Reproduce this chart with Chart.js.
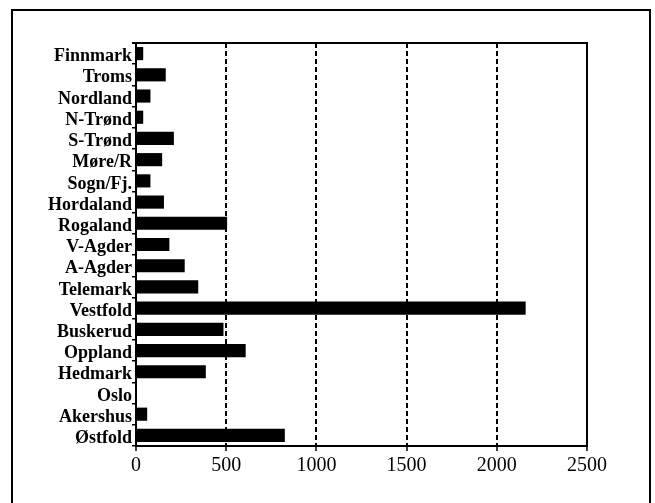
<!DOCTYPE html>
<html>
<head>
<meta charset="utf-8">
<script src="https://cdn.jsdelivr.net/npm/chart.js@4"></script>
<style>
  html, body { margin: 0; padding: 0; background: #fff; }
  #wrap { position: relative; width: 655px; height: 503px; }
  #frame { position: absolute; left: 11px; top: 9px; width: 636px; height: 500px;
           border: 2px solid #000; border-bottom: none; pointer-events: none; }
  canvas { position: absolute; left: 0; top: 0; }
</style>
</head>
<body>
<div id="wrap">
  <canvas id="chart" width="655" height="503"></canvas>
  <div id="frame"></div>
</div>
<script>
// county names, top to bottom
const counties = ['Finnmark', 'Troms', 'Nordland', 'N-Trønd', 'S-Trønd', 'Møre/R', 'Sogn/Fj.',
  'Hordaland', 'Rogaland', 'V-Agder', 'A-Agder', 'Telemark', 'Vestfold', 'Buskerud',
  'Oppland', 'Hedmark', 'Oslo', 'Akershus', 'Østfold'];
const values = [40, 165, 80, 40, 210, 145, 80, 155, 505, 185, 270, 345, 2160, 485, 608, 387, 0, 62, 825];
const xTicks = [0, 500, 1000, 1500, 2000, 2500];

// closes the plot box on top and right
const boxLines = {
  id: 'boxLines',
  afterDraw(chart) {
    const { ctx, chartArea: a } = chart;
    ctx.save();
    ctx.strokeStyle = '#000';
    ctx.lineWidth = 2;
    ctx.beginPath();
    ctx.moveTo(a.left - 4, a.top);
    ctx.lineTo(a.right, a.top);
    ctx.lineTo(a.right, a.bottom);
    ctx.stroke();
    ctx.restore();
  }
};

new Chart(document.getElementById('chart'), {
  type: 'bar',
  data: {
    labels: counties,
    datasets: [{
      data: values,
      backgroundColor: '#000',
      borderWidth: 0,
      barPercentage: 0.62,
      categoryPercentage: 1
    }]
  },
  plugins: [boxLines],
  options: {
    indexAxis: 'y',
    responsive: false,
    animation: false,
    events: [],
    layout: { padding: { left: 0, right: 68, top: 43, bottom: 27 } },
    plugins: { legend: { display: false }, tooltip: { enabled: false } },
    scales: {
      x: {
        min: 0,
        max: 2500,
        afterBuildTicks: s => { s.ticks = xTicks.map(v => ({ value: v })); },
        afterFit: s => { s.height = 30; },
        border: { display: true, color: '#000', width: 2, dash: [5, 3] },
        grid: {
          color: c => (c.tick && (c.tick.value === 0 || c.tick.value === 2500)) ? 'rgba(0,0,0,0)' : '#000',
          lineWidth: 2,
          tickColor: '#000',
          tickLength: 5,
          tickWidth: 1.5,
          tickBorderDash: []
        },
        ticks: {
          color: '#000',
          padding: 3,
          maxRotation: 0,
          callback: v => String(v),
          font: { family: 'Liberation Serif', size: 20 }
        }
      },
      y: {
        afterFit: s => { s.width = 136; },
        border: { display: true, color: '#000', width: 2 },
        grid: {
          offset: true,
          drawOnChartArea: false,
          color: '#000',
          tickLength: 4,
          lineWidth: 1.5
        },
        ticks: {
          color: '#000',
          padding: 0,
          labelOffset: 3,
          autoSkip: false,
          font: { family: 'Liberation Serif', size: 18, weight: 'bold' }
        }
      }
    }
  }
});
</script>
</body>
</html>
